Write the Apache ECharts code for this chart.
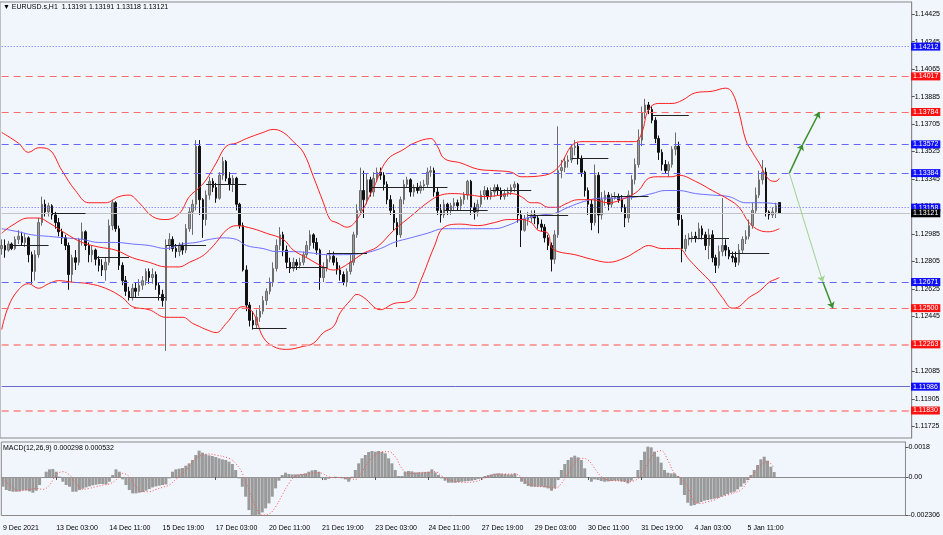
<!DOCTYPE html>
<html>
<head>
<meta charset="utf-8">
<title>EURUSD H1</title>
<script src="https://cdn.jsdelivr.net/npm/echarts@6.0.0/dist/echarts.min.js"></script>
<style>
  html, body { margin: 0; padding: 0; background: #f0f6fc; }
  #chart { width: 943px; height: 535px; }
</style>
</head>
<body>
<div id="chart"></div>
<script>
// EURUSD.s H1 - candles (read as 2-hour steps), bollinger, MA, MACD

// x axis
const slotCount = 272            // bars + empty space on the right
const tickStep = 16
const tickLabels = ['9 Dec 2021', '13 Dec 03:00', '14 Dec 11:00', '15 Dec 19:00', '17 Dec 03:00',
  '20 Dec 11:00', '21 Dec 19:00', '23 Dec 03:00', '24 Dec 11:00', '27 Dec 19:00',
  '29 Dec 03:00', '30 Dec 11:00', '31 Dec 19:00', '4 Jan 03:00', '5 Jan 11:00']

// price axis
const priceTicks = [1.14425, 1.14245, 1.14065, 1.13885, 1.13705, 1.13525, 1.13345, 1.13165,
  1.12985, 1.12805, 1.12625, 1.12445, 1.12265, 1.12085, 1.11905, 1.11725]
const macdTicks = [0.0018, 0, -0.002306]
const macdTickLabels = ['0.0018', '0.00', '-0.002306']

// [open, close, low, high]
const candles = [
  [1.1289,1.1291,1.1285,1.1295],[1.1291,1.1288,1.1283,1.1295],[1.1288,1.1292,1.1287,1.1294],[1.1292,1.1289,1.1288,1.1293],
  [1.1289,1.1295,1.1288,1.1297],[1.1295,1.1297,1.1292,1.1301],[1.1297,1.1293,1.1291,1.1300],[1.1293,1.1296,1.1290,1.1299],
  [1.1296,1.1285,1.1280,1.1297],[1.1285,1.1274,1.1266,1.1287],[1.1274,1.1285,1.1268,1.1288],[1.1285,1.1306,1.1283,1.1309],
  [1.1306,1.1318,1.1304,1.1323],[1.1318,1.1313,1.1310,1.1321],[1.1313,1.1317,1.1310,1.1319],[1.1317,1.1311,1.1308,1.1318],
  [1.1311,1.1306,1.1302,1.1313],[1.1306,1.1300,1.1297,1.1309],[1.1300,1.1296,1.1292,1.1302],[1.1296,1.1291,1.1288,1.1298],
  [1.1291,1.1272,1.1262,1.1293],[1.1272,1.1283,1.1267,1.1285],[1.1283,1.1280,1.1275,1.1288],[1.1280,1.1295,1.1278,1.1296],
  [1.1295,1.1300,1.1291,1.1306],[1.1300,1.1291,1.1288,1.1301],[1.1291,1.1285,1.1280,1.1293],[1.1285,1.1288,1.1280,1.1291],
  [1.1288,1.1282,1.1278,1.1289],[1.1282,1.1278,1.1274,1.1284],[1.1278,1.1275,1.1271,1.1282],[1.1275,1.1280,1.1268,1.1283],
  [1.1280,1.1304,1.1278,1.1308],[1.1304,1.1319,1.1301,1.1321],[1.1319,1.1302,1.1300,1.1320],[1.1302,1.1278,1.1275,1.1304],
  [1.1278,1.1268,1.1265,1.1280],[1.1268,1.1261,1.1258,1.1271],[1.1261,1.1257,1.1255,1.1264],[1.1257,1.1263,1.1255,1.1266],
  [1.1263,1.1261,1.1257,1.1267],[1.1261,1.1265,1.1258,1.1269],[1.1265,1.1268,1.1262,1.1271],[1.1268,1.1274,1.1265,1.1276],
  [1.1274,1.1270,1.1266,1.1276],[1.1270,1.1272,1.1266,1.1276],[1.1272,1.1265,1.1262,1.1274],[1.1265,1.1259,1.1255,1.1267],
  [1.1259,1.1255,1.1251,1.1262],[1.1255,1.1291,1.1222,1.1295],[1.1291,1.1295,1.1288,1.1299],[1.1295,1.1289,1.1287,1.1297],
  [1.1289,1.1287,1.1283,1.1292],[1.1287,1.1291,1.1284,1.1293],[1.1291,1.1288,1.1285,1.1293],[1.1288,1.1302,1.1286,1.1305],
  [1.1302,1.1313,1.1300,1.1316],[1.1313,1.1318,1.1298,1.1321],[1.1318,1.1356,1.1314,1.1360],[1.1356,1.1321,1.1311,1.1360],
  [1.1321,1.1308,1.1296,1.1322],[1.1308,1.1324,1.1304,1.1327],[1.1324,1.1333,1.1321,1.1336],[1.1333,1.1329,1.1326,1.1335],
  [1.1329,1.1322,1.1319,1.1332],[1.1322,1.1337,1.1321,1.1339],[1.1337,1.1346,1.1334,1.1349],[1.1346,1.1335,1.1333,1.1347],
  [1.1335,1.1331,1.1327,1.1339],[1.1331,1.1335,1.1326,1.1337],[1.1335,1.1318,1.1314,1.1336],[1.1318,1.1304,1.1302,1.1319],
  [1.1304,1.1275,1.1274,1.1306],[1.1275,1.1252,1.1248,1.1278],[1.1252,1.1242,1.1238,1.1254],[1.1242,1.1239,1.1236,1.1248],
  [1.1239,1.1244,1.1237,1.1249],[1.1244,1.1248,1.1241,1.1252],[1.1248,1.1255,1.1246,1.1258],[1.1255,1.1261,1.1252,1.1263],
  [1.1261,1.1267,1.1259,1.1270],[1.1267,1.1276,1.1264,1.1280],[1.1276,1.1291,1.1274,1.1295],[1.1291,1.1298,1.1288,1.1303],
  [1.1298,1.1288,1.1284,1.1300],[1.1288,1.1280,1.1276,1.1291],[1.1280,1.1276,1.1273,1.1283],[1.1276,1.1280,1.1274,1.1283],
  [1.1280,1.1278,1.1275,1.1282],[1.1278,1.1280,1.1276,1.1283],[1.1280,1.1285,1.1278,1.1287],[1.1285,1.1291,1.1283,1.1294],
  [1.1291,1.1298,1.1288,1.1301],[1.1298,1.1293,1.1289,1.1299],[1.1293,1.1288,1.1285,1.1296],[1.1288,1.1270,1.1262,1.1289],
  [1.1270,1.1276,1.1267,1.1280],[1.1276,1.1282,1.1274,1.1285],[1.1282,1.1284,1.1280,1.1288],[1.1284,1.1280,1.1278,1.1287],
  [1.1280,1.1275,1.1272,1.1283],[1.1275,1.1272,1.1268,1.1278],[1.1272,1.1267,1.1265,1.1274],[1.1267,1.1274,1.1264,1.1276],
  [1.1274,1.1280,1.1272,1.1285],[1.1280,1.1298,1.1278,1.1300],[1.1298,1.1314,1.1296,1.1318],[1.1314,1.1327,1.1311,1.1342],
  [1.1327,1.1321,1.1309,1.1340],[1.1321,1.1334,1.1318,1.1338],[1.1334,1.1326,1.1323,1.1336],[1.1326,1.1335,1.1323,1.1339],
  [1.1335,1.1339,1.1333,1.1342],[1.1339,1.1337,1.1334,1.1342],[1.1337,1.1331,1.1327,1.1339],[1.1331,1.1321,1.1318,1.1333],
  [1.1321,1.1314,1.1311,1.1324],[1.1314,1.1306,1.1301,1.1318],[1.1306,1.1298,1.1290,1.1309],[1.1298,1.1321,1.1296,1.1323],
  [1.1321,1.1331,1.1318,1.1334],[1.1331,1.1334,1.1329,1.1336],[1.1334,1.1326,1.1323,1.1335],[1.1326,1.1329,1.1323,1.1331],
  [1.1329,1.1327,1.1325,1.1332],[1.1327,1.1330,1.1325,1.1333],[1.1330,1.1331,1.1327,1.1334],[1.1331,1.1339,1.1329,1.1342],
  [1.1339,1.1340,1.1336,1.1343],[1.1340,1.1326,1.1323,1.1342],[1.1326,1.1314,1.1311,1.1329],[1.1314,1.1311,1.1306,1.1318],
  [1.1311,1.1318,1.1309,1.1321],[1.1318,1.1314,1.1311,1.1319],[1.1314,1.1317,1.1311,1.1319],[1.1317,1.1319,1.1314,1.1322],
  [1.1319,1.1317,1.1314,1.1321],[1.1317,1.1321,1.1314,1.1323],[1.1321,1.1324,1.1318,1.1326],[1.1324,1.1333,1.1321,1.1334],
  [1.1333,1.1316,1.1311,1.1334],[1.1316,1.1313,1.1308,1.1319],[1.1313,1.1318,1.1310,1.1321],[1.1318,1.1324,1.1316,1.1327],
  [1.1324,1.1327,1.1321,1.1330],[1.1327,1.1323,1.1321,1.1329],[1.1323,1.1326,1.1321,1.1329],[1.1326,1.1329,1.1323,1.1331],
  [1.1329,1.1327,1.1324,1.1331],[1.1327,1.1323,1.1321,1.1329],[1.1323,1.1325,1.1321,1.1328],[1.1325,1.1326,1.1323,1.1329],
  [1.1326,1.1329,1.1324,1.1331],[1.1329,1.1331,1.1326,1.1333],[1.1331,1.1311,1.1306,1.1332],[1.1311,1.1301,1.1290,1.1314],
  [1.1301,1.1308,1.1300,1.1311],[1.1308,1.1309,1.1304,1.1313],[1.1309,1.1311,1.1306,1.1314],[1.1311,1.1309,1.1305,1.1314],
  [1.1309,1.1305,1.1302,1.1311],[1.1305,1.1303,1.1300,1.1308],[1.1303,1.1296,1.1293,1.1305],[1.1296,1.1291,1.1288,1.1298],
  [1.1291,1.1282,1.1274,1.1293],[1.1282,1.1298,1.1279,1.1301],[1.1298,1.1340,1.1296,1.1369],[1.1340,1.1342,1.1335,1.1347],
  [1.1342,1.1346,1.1339,1.1349],[1.1346,1.1347,1.1342,1.1350],[1.1347,1.1355,1.1345,1.1357],[1.1355,1.1356,1.1350,1.1360],
  [1.1356,1.1348,1.1344,1.1358],[1.1348,1.1339,1.1336,1.1350],[1.1339,1.1327,1.1323,1.1340],[1.1327,1.1318,1.1311,1.1329],
  [1.1318,1.1306,1.1301,1.1321],[1.1306,1.1337,1.1304,1.1344],[1.1337,1.1311,1.1299,1.1339],[1.1311,1.1321,1.1308,1.1326],
  [1.1321,1.1324,1.1317,1.1327],[1.1324,1.1318,1.1314,1.1326],[1.1318,1.1322,1.1316,1.1325],[1.1322,1.1323,1.1321,1.1326],
  [1.1323,1.1321,1.1319,1.1325],[1.1321,1.1316,1.1313,1.1324],[1.1316,1.1309,1.1303,1.1318],[1.1309,1.1324,1.1306,1.1327],
  [1.1324,1.1334,1.1321,1.1337],[1.1334,1.1344,1.1331,1.1348],[1.1344,1.1360,1.1342,1.1367],[1.1360,1.1378,1.1356,1.1382],
  [1.1378,1.1383,1.1374,1.1387],[1.1383,1.1380,1.1377,1.1385],[1.1380,1.1373,1.1371,1.1382],[1.1373,1.1361,1.1358,1.1375],
  [1.1361,1.1352,1.1347,1.1363],[1.1352,1.1344,1.1340,1.1354],[1.1344,1.1340,1.1338,1.1347],[1.1340,1.1344,1.1336,1.1346],
  [1.1344,1.1354,1.1342,1.1356],[1.1354,1.1356,1.1350,1.1365],[1.1356,1.1308,1.1304,1.1359],[1.1308,1.1289,1.1280,1.1311],
  [1.1289,1.1295,1.1287,1.1298],[1.1295,1.1296,1.1291,1.1299],[1.1296,1.1297,1.1293,1.1300],[1.1297,1.1296,1.1293,1.1300],
  [1.1296,1.1302,1.1295,1.1306],[1.1302,1.1298,1.1295,1.1304],[1.1298,1.1291,1.1288,1.1300],[1.1291,1.1298,1.1282,1.1302],
  [1.1298,1.1283,1.1280,1.1301],[1.1283,1.1278,1.1273,1.1285],[1.1278,1.1287,1.1276,1.1291],[1.1287,1.1291,1.1284,1.1322],
  [1.1291,1.1288,1.1284,1.1295],[1.1288,1.1284,1.1282,1.1290],[1.1284,1.1283,1.1280,1.1287],[1.1283,1.1280,1.1277,1.1287],
  [1.1280,1.1288,1.1278,1.1292],[1.1288,1.1295,1.1286,1.1297],[1.1295,1.1297,1.1292,1.1301],[1.1297,1.1304,1.1295,1.1308],
  [1.1304,1.1314,1.1302,1.1319],[1.1314,1.1324,1.1312,1.1329],[1.1324,1.1334,1.1322,1.1340],[1.1334,1.1339,1.1331,1.1347],
  [1.1339,1.1313,1.1310,1.1342],[1.1313,1.1311,1.1308,1.1314],[1.1311,1.1313,1.1309,1.1316],[1.1313,1.1317,1.1309,1.1319],
  [1.13191,1.13121,1.13118,1.13191]
]

// bollinger bands and moving average, [bar index, price]
const bbUpper = [[0,1.1365],[5,1.1358],[8,1.1352],[11,1.1355],[14,1.1354],[18,1.1340],[22,1.1327],[26,1.1319],
  [31,1.1319],[35,1.1323],[38,1.1324],[41,1.1319],[45,1.1310],[49,1.1308],[53,1.1312],[56,1.1323],[59,1.1329],
  [61,1.1334],[64,1.1345],[67,1.1356],[70,1.1358],[73,1.1361],[78,1.1365],[81,1.1367],[84,1.1365],[87,1.1359],
  [90,1.1352],[93,1.1336],[96,1.1319],[98,1.1308],[100,1.1306],[103,1.1303],[106,1.1308],[111,1.1329],[115,1.1347],
  [120,1.1354],[123,1.1358],[128,1.1361],[130,1.1356],[132,1.1348],[137,1.1345],[142,1.1341],[147,1.1340],
  [152,1.1339],[155,1.1336],[162,1.1337],[166,1.1342],[171,1.1358],[174,1.1359],[181,1.1359],[189,1.1359],
  [191,1.1365],[193,1.1380],[196,1.1384],[200,1.1384],[203,1.1386],[207,1.1391],[212,1.1392],[216,1.1394],
  [218,1.1391],[220,1.1378],[222,1.1360],[224,1.1352],[226,1.1345],[229,1.1334],[231,1.1333],[232,1.1335]]
const bbMiddle = [[0,1.1299],[3,1.1304],[8,1.1309],[11,1.1309],[14,1.1306],[19,1.1299],[24,1.1293],[29,1.1290],
  [34,1.1288],[39,1.1283],[44,1.1280],[49,1.1277],[53,1.1277],[56,1.1280],[59,1.1283],[61,1.1286],[64,1.1293],
  [67,1.1301],[70,1.1304],[75,1.1302],[79,1.1299],[84,1.1295],[87,1.1288],[91,1.1283],[96,1.1277],[99,1.1275],
  [101,1.1276],[104,1.1280],[108,1.1286],[112,1.1290],[117,1.1301],[122,1.1310],[127,1.1319],[131,1.1324],
  [135,1.1325],[140,1.1324],[144,1.1323],[149,1.1324],[152,1.1325],[155,1.1323],[158,1.1319],[160,1.1319],
  [163,1.1316],[166,1.1316],[168,1.1318],[172,1.1321],[176,1.1321],[181,1.1319],[186,1.1322],[190,1.1327],
  [193,1.1335],[196,1.1336],[200,1.1336],[202,1.1337],[207,1.1333],[212,1.1327],[217,1.1321],[220,1.1316],
  [223,1.1306],[226,1.1301],[229,1.1300],[232,1.1302]]
const bbLower = [[0,1.1236],[2,1.1251],[5,1.1262],[8,1.1266],[11,1.1263],[14,1.1266],[17,1.1268],[21,1.1267],
  [26,1.1266],[31,1.1263],[36,1.1257],[39,1.1251],[44,1.1249],[49,1.1244],[54,1.1244],[57,1.1240],[59,1.1238],
  [61,1.1236],[64,1.1234],[67,1.1240],[72,1.1251],[75,1.1247],[78,1.1231],[81,1.1225],[85,1.1223],[90,1.1225],
  [93,1.1227],[96,1.1234],[99,1.1238],[101,1.1247],[104,1.1255],[106,1.1259],[108,1.1257],[113,1.1249],
  [117,1.1253],[122,1.1255],[125,1.1268],[129,1.1290],[132,1.1303],[137,1.1305],[142,1.1304],[147,1.1306],
  [151,1.1308],[155,1.1308],[158,1.1306],[160,1.1301],[163,1.1299],[164,1.1290],[166,1.1287],[171,1.1285],
  [176,1.1282],[181,1.1280],[186,1.1283],[190,1.1288],[193,1.1291],[197,1.1289],[202,1.1289],[205,1.1282],
  [208,1.1275],[212,1.1266],[215,1.1257],[218,1.1250],[220,1.1251],[223,1.1257],[226,1.1261],[229,1.1267],
  [231,1.1269],[232,1.1270]]
const maBlue = [[0,1.1302],[5,1.1300],[9,1.1298],[14,1.1297],[19,1.1296],[24,1.1295],[29,1.1293],[34,1.1293],
  [39,1.1292],[44,1.1291],[49,1.1289],[54,1.1292],[58,1.1293],[62,1.1295],[66,1.1296],[70,1.1295],[73,1.1291],
  [78,1.1289],[82,1.1287],[87,1.1287],[93,1.1286],[97,1.1285],[102,1.1285],[108,1.1286],[113,1.1289],
  [117,1.1293],[122,1.1296],[127,1.1299],[132,1.1302],[137,1.1302],[142,1.1302],[147,1.1302],[152,1.1305],
  [155,1.1308],[161,1.1311],[165,1.1312],[169,1.1316],[174,1.1320],[179,1.1322],[185,1.1322],[190,1.1323],
  [194,1.1325],[198,1.1327],[202,1.1327],[207,1.1325],[212,1.1324],[217,1.1323],[222,1.1319],[227,1.1319],
  [232,1.1318]]

// horizontal levels
const redLevels = [1.14017, 1.13784, 1.12500]
const paleRedLevels = [1.12263, 1.11830]
const blueDashLevels = [1.13572, 1.13384, 1.12671]
const blueDotLevels = [1.14212, 1.13158]
const blueSolidLevels = [1.11986]
const lastPrice = 1.13121

// daily segments: start bar, end bar, price
const dayStart = [3, 15, 28, 38, 49, 61, 75, 85, 97, 110, 132, 146, 157, 170, 182, 194, 205, 217]
const dayEnd = [14, 25, 38, 49, 61, 73, 85, 97, 109, 133, 145, 158, 169, 181, 193, 205, 217, 229]
const dayPrice = [1.1291, 1.1312, 1.1283, 1.1257, 1.1291, 1.1331, 1.1237, 1.1277, 1.1286, 1.1329,
  1.1314, 1.1327, 1.1311, 1.1348, 1.1323, 1.1376, 1.1296, 1.1286]

// projection arrows
const arrowUp = [[235, 1.13384], [239, 1.13572], [244, 1.13784]]
const arrowDown = [[235, 1.13384], [245, 1.12671], [248, 1.12500]]

// MACD(12,26,9)
const macdHist = [
  -0.00058,-0.00078,-0.00084,-0.00088,-0.00088,-0.00086,-0.00080,-0.00080,-0.00086,-0.00094,
  -0.00082,-0.00048,-0.00002,0.00032,0.00046,0.00048,0.00032,0.00002,-0.00028,-0.00048,
  -0.00058,-0.00088,-0.00088,-0.00078,-0.00070,-0.00062,-0.00056,-0.00050,-0.00046,-0.00042,
  -0.00042,-0.00044,-0.00028,0.00012,0.00046,0.00032,-0.00014,-0.00048,-0.00078,-0.00098,
  -0.00098,-0.00094,-0.00090,-0.00082,-0.00072,-0.00062,-0.00056,-0.00052,-0.00048,-0.00044,
  -0.00008,0.00032,0.00046,0.00050,0.00054,0.00068,0.00082,0.00102,0.00132,0.00158,
  0.00146,0.00136,0.00130,0.00126,0.00120,0.00112,0.00106,0.00102,0.00092,0.00078,
  0.00042,-0.00008,-0.00058,-0.00118,-0.00198,-0.00228,-0.00230,-0.00226,-0.00212,-0.00188,
  -0.00158,-0.00118,-0.00068,-0.00022,0.00012,0.00026,0.00018,0.00016,0.00016,0.00016,
  0.00018,0.00022,0.00032,0.00040,0.00042,0.00032,-0.00008,-0.00018,-0.00010,-0.00004,
  0.00002,-0.00002,-0.00008,-0.00014,-0.00028,0.00002,0.00042,0.00082,0.00112,0.00132,
  0.00150,0.00156,0.00152,0.00156,0.00150,0.00142,0.00112,0.00082,0.00042,0.00006,
  0.00006,0.00032,0.00036,0.00034,0.00028,0.00028,0.00028,0.00030,0.00032,0.00046,
  0.00028,0.00012,-0.00008,-0.00022,-0.00034,-0.00034,-0.00034,-0.00030,-0.00028,-0.00026,
  -0.00024,-0.00022,-0.00018,-0.00012,-0.00008,0.00006,0.00012,0.00016,0.00020,0.00022,
  0.00020,0.00018,0.00016,0.00016,0.00022,-0.00002,-0.00028,-0.00042,-0.00054,-0.00058,
  -0.00058,-0.00058,-0.00058,-0.00062,-0.00068,-0.00082,-0.00068,-0.00018,0.00042,0.00078,
  0.00102,0.00118,0.00128,0.00118,0.00102,0.00052,0.00000,-0.00028,-0.00014,-0.00018,
  -0.00024,-0.00028,-0.00026,-0.00024,-0.00022,-0.00022,-0.00026,-0.00028,-0.00038,-0.00022,
  -0.00002,0.00042,0.00102,0.00152,0.00182,0.00178,0.00152,0.00122,0.00086,0.00042,
  0.00026,0.00022,0.00022,0.00006,-0.00048,-0.00108,-0.00154,-0.00172,-0.00168,-0.00158,
  -0.00150,-0.00142,-0.00138,-0.00134,-0.00130,-0.00126,-0.00118,-0.00110,-0.00102,-0.00094,
  -0.00088,-0.00074,-0.00058,-0.00038,-0.00018,0.00012,0.00042,0.00072,0.00106,0.00122,
  0.00098,0.00062,0.000298
]
const macdSignal = [[0,-0.00008],[2,-0.00048],[5,-0.00082],[8,-0.00074],[10,-0.00068],[12,-0.00074],
  [14,-0.00048],[16,0.00012],[18,0.00032],[20,0.00012],[22,-0.00038],[24,-0.00074],[26,-0.00068],
  [28,-0.00058],[30,-0.00048],[32,-0.00042],[34,-0.00018],[36,0.00022],[38,0.00002],[40,-0.00058],
  [42,-0.00088],[44,-0.00088],[46,-0.00074],[48,-0.00062],[50,-0.00048],[52,-0.00014],[54,0.00022],
  [56,0.00062],[58,0.00112],[62,0.00138],[64,0.00132],[68,0.00112],[70,0.00082],[72,0.00022],
  [74,-0.00078],[76,-0.00178],[78,-0.00228],[80,-0.00222],[82,-0.00178],[84,-0.00108],[86,-0.00038],
  [88,0.00006],[90,0.00016],[92,0.00018],[94,0.00028],[96,0.00022],[98,0.00002],[100,-0.00004],
  [102,-0.00002],[104,-0.00008],[106,-0.00014],[108,0.00032],[110,0.00092],[112,0.00132],[114,0.00152],
  [116,0.00152],[118,0.00122],[120,0.00052],[122,0.00022],[124,0.00022],[126,0.00028],[128,0.00028],
  [130,0.00032],[132,0.00006],[134,-0.00014],[136,-0.00028],[138,-0.00032],[142,-0.00028],[144,-0.00014],
  [146,0.00002],[148,0.00016],[151,0.00018],[154,0.00018],[156,-0.00002],[158,-0.00038],[160,-0.00054],
  [162,-0.00058],[164,-0.00058],[166,-0.00068],[168,-0.00038],[170,0.00022],[172,0.00082],[174,0.00112],
  [176,0.00102],[178,0.00052],[180,0.00002],[182,-0.00018],[184,-0.00022],[186,-0.00024],[188,-0.00028],
  [190,-0.00022],[192,0.00012],[194,0.00082],[196,0.00142],[198,0.00158],[200,0.00102],[202,0.00022],
  [204,-0.00008],[206,-0.00058],[208,-0.00148],[210,-0.00158],[212,-0.00148],[214,-0.00138],[216,-0.00118],
  [218,-0.00108],[220,-0.00094],[222,-0.00078],[224,-0.00028],[226,0.00022],[228,0.00072],[230,0.00092],
  [232,0.000532]]

const headerText = '\u25BC EURUSD.s,H1  1.13191 1.13191 1.13118 1.13121'
const macdText = 'MACD(12,26,9) 0.000298 0.000532'

const chart = echarts.init(document.getElementById('chart'))
const categories = Array.from({ length: slotCount }, (_, i) => String(i))
const font = 'Liberation Sans'

// level line across the grid, drawn as a two point line with a price box at the right end
function level(value, color, type, width, boxColor) {
  return [
    { coord: [0, value], symbol: 'none',
      lineStyle: { color: color, type: type, width: width },
      label: {
        show: true, position: 'end', distance: 1,
        formatter: value.toFixed(5),
        backgroundColor: boxColor, color: '#fff',
        fontFamily: font, fontSize: 7, padding: [1, 2, 0, 2]
      } },
    { coord: [slotCount - 1, value], symbol: 'none' }
  ]
}

const levelLines = [].concat(
  redLevels.map(v => level(v, '#ff6a6a', [7, 5], 1, '#ff1010')),
  paleRedLevels.map(v => level(v, '#ffa0a0', [7, 5], 2, '#ff1010')),
  blueDashLevels.map(v => level(v, '#6666ff', [7, 5], 1, '#1010ff')),
  blueDotLevels.map(v => level(v, '#6666ff', [1, 2], 1, '#1010ff')),
  blueSolidLevels.map(v => level(v, '#6a6acc', 'solid', 1, '#1010ff')),
  [level(lastPrice, '#c4c4c4', 'solid', 1, '#000')]
)

const daySegments = dayStart.map((s, k) => [
  { coord: [s, dayPrice[k]] }, { coord: [dayEnd[k], dayPrice[k]] }
])

// arrow legs; the first leg of the down arrow is drawn pale and thin
function arrowSegments(points, paleFirst) {
  const segs = []
  for (let k = 1; k < points.length; k++) {
    const from = { coord: points[k - 1] }
    if (paleFirst && k === 1) from.lineStyle = { color: '#9fd28f', width: 1 }
    segs.push([from, { coord: points[k] }])
  }
  return segs
}

const isTick = idx => idx % tickStep === 0 && idx / tickStep < tickLabels.length

function bandLine(data, color, markLine) {
  const s = {
    type: 'line', data: data, xAxisIndex: 0, yAxisIndex: 0,
    smooth: 0.4, symbol: 'none', silent: true,
    lineStyle: { color: color, width: 1 }
  }
  if (markLine) s.markLine = markLine
  return s
}

const option = {
  animation: false,
  backgroundColor: '#f0f6fc',
  textStyle: { fontFamily: font },
  graphic: [
    { type: 'text', left: 3, top: 4, style: { text: headerText, fontFamily: font, fontSize: 7, fill: '#000' } },
    { type: 'text', left: 3, top: 445, style: { text: macdText, fontFamily: font, fontSize: 7, fill: '#000' } }
  ],
  grid: [
    { left: 0, right: 31, top: 2, height: 436, show: true, borderColor: '#8a8a8a', borderWidth: 1 },
    { left: 0, right: 31, top: 442, height: 73.5, show: true, borderColor: '#8a8a8a', borderWidth: 1 }
  ],
  xAxis: [
    { type: 'category', gridIndex: 0, data: categories, boundaryGap: true,
      axisLine: { show: false }, axisTick: { show: false }, axisLabel: { show: false }, splitLine: { show: false } },
    { type: 'category', gridIndex: 1, data: categories, boundaryGap: true,
      axisLine: { show: true, lineStyle: { color: '#8a8a8a' } },
      axisTick: { show: true, interval: isTick, alignWithLabel: true, length: 3, lineStyle: { color: '#555' } },
      axisLabel: {
        show: true, interval: isTick, align: 'left', margin: 9,
        fontFamily: font, fontSize: 7, color: '#000',
        formatter: (v, idx) => tickLabels[idx / tickStep] || ''
      },
      splitLine: { show: false } }
  ],
  yAxis: [
    { type: 'value', gridIndex: 0, position: 'right', min: 1.1165, max: 1.14504, scale: true,
      axisLine: { show: true, lineStyle: { color: '#8a8a8a' } },
      axisTick: { show: true, customValues: priceTicks, length: 3, lineStyle: { color: '#555' } },
      axisLabel: { customValues: priceTicks, formatter: v => v.toFixed(5), margin: 3,
        fontFamily: font, fontSize: 7, color: '#000' },
      splitLine: { show: false } },
    { type: 'value', gridIndex: 1, position: 'right', min: -0.002306, max: 0.0021,
      axisLine: { show: true, lineStyle: { color: '#8a8a8a' } },
      axisTick: { show: true, customValues: macdTicks, length: 3, lineStyle: { color: '#555' } },
      axisLabel: { customValues: macdTicks, margin: 3, fontFamily: font, fontSize: 7, color: '#000',
        formatter: v => macdTickLabels[macdTicks.findIndex(t => Math.abs(t - v) < 1e-9)] },
      splitLine: { show: false } }
  ],
  series: [
    {
      type: 'candlestick', data: candles, xAxisIndex: 0, yAxisIndex: 0, barWidth: 2,
      itemStyle: { color: '#9c9c9c', color0: '#111', borderColor: '#6c6c6c', borderColor0: '#111', borderWidth: 1 },
      markLine: { silent: true, symbol: 'none', animation: false, data: levelLines }
    },
    bandLine(maBlue, '#6f6fff', {
      silent: true, symbol: 'none', animation: false,
      lineStyle: { color: '#222', type: 'solid', width: 1 },
      label: { show: false },
      data: daySegments
    }),
    bandLine(bbUpper, '#ff1e1e', {
      silent: true, symbol: ['none', 'arrow'], symbolSize: 6, animation: false,
      lineStyle: { color: '#3b8f2e', type: 'solid', width: 1.5 },
      label: { show: false },
      data: arrowSegments(arrowUp, false).concat(arrowSegments(arrowDown, true))
    }),
    bandLine(bbMiddle, '#ff1e1e'),
    bandLine(bbLower, '#ff1e1e'),
    {
      type: 'bar', data: macdHist, xAxisIndex: 1, yAxisIndex: 1, barWidth: 3,
      itemStyle: { color: '#9a9a9a' }, silent: true
    },
    {
      type: 'line', data: macdSignal, xAxisIndex: 1, yAxisIndex: 1,
      smooth: 0.4, symbol: 'none', silent: true,
      lineStyle: { color: '#ff5050', width: 1, type: [1, 2] }
    }
  ]
}

chart.setOption(option)
</script>
</body>
</html>
